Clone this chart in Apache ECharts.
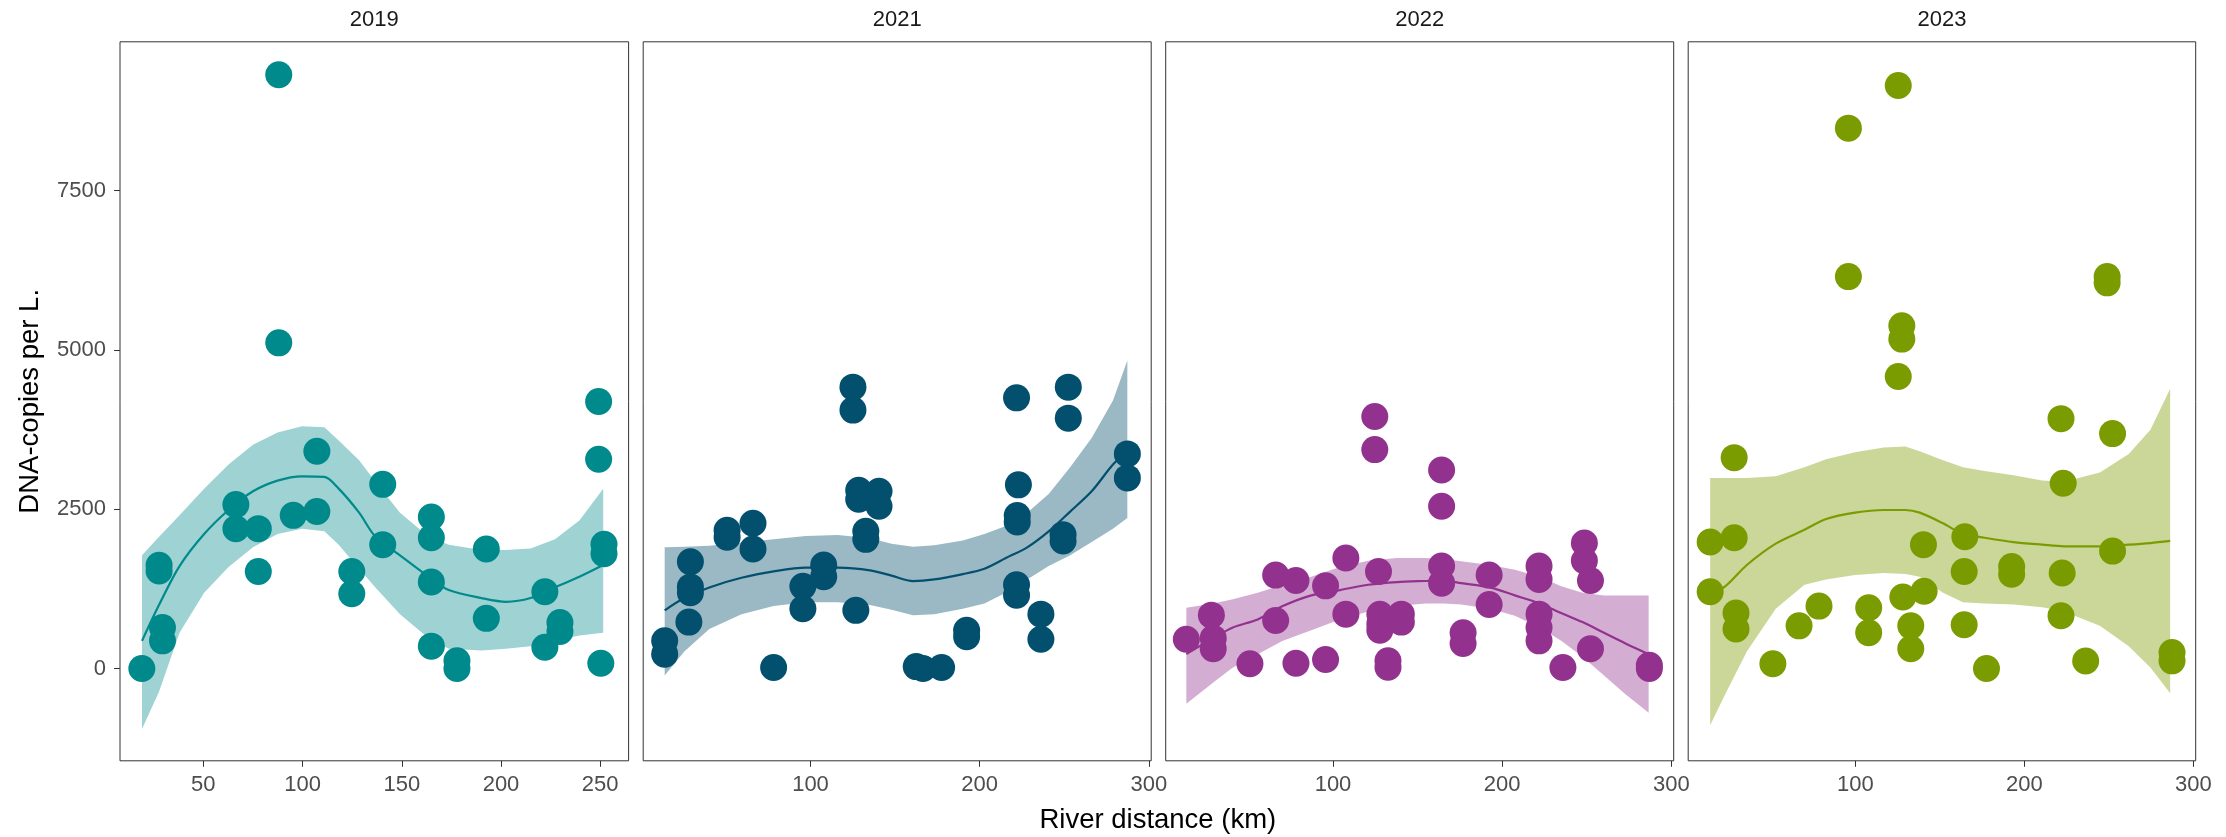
<!DOCTYPE html>
<html>
<head>
<meta charset="utf-8">
<script src="https://cdn.jsdelivr.net/npm/echarts@6/dist/echarts.min.js"></script>
<style>html,body{margin:0;padding:0;background:#fff;}#c{width:2226px;height:837px;}</style>
</head>
<body>
<div id="c"></div>
<script>
// ---------- data ----------
const years = ['2019', '2021', '2022', '2023'];
const xTitle = 'River distance (km)';
const yTitle = 'DNA-copies per L.';
const xTicks2019 = [50, 100, 150, 200, 250];
const xTicksOther = [100, 200, 300];
const yTicks = [0, 2500, 5000, 7500];

const x2019 = [19, 27.7, 27.7, 29.4, 29.4, 66.4, 66.4, 77.7, 77.7, 88, 88, 95.3, 107.2, 107.2, 124.8, 124.8, 140.4, 140.4, 164.9, 164.9, 164.9, 164.9, 177.8, 177.8, 192.6, 192.6, 222.1, 222.1, 229.7, 229.7, 249.2, 249.2, 251.9, 251.9, 250.3];
const y2019 = [0, 1620, 1530, 644, 434, 2571, 2194, 2194, 1523, 9315, 5109, 2403, 3409, 2462, 1523, 1172, 2889, 1943, 2378, 2051, 1356, 351, 120, 0, 1876, 787, 1205, 334, 720, 580, 4188, 3283, 1950, 1800, 83];

const x2021 = [13.8, 13.8, 29.0, 29.0, 29.0, 28.1, 50.7, 50.7, 66.0, 66.0, 78.2, 95.5, 95.5, 107.8, 107.8, 125.1, 125.1, 126.8, 128.5, 128.5, 132.7, 132.7, 140.5, 140.5, 162.5, 166.5, 177.5, 192.3, 192.3, 221.8, 222.9, 222.2, 222.2, 221.8, 221.8, 236.2, 236.2, 252.4, 252.4, 249.3, 249.3, 287.3, 287.3];
const y2021 = [434, 225, 1674, 1280, 1190, 728, 2170, 2060, 2278, 1875, 16, 1289, 937, 1624, 1440, 4414, 4054, 912, 2797, 2655, 2152, 2026, 2780, 2546, 30, 0, 16, 600, 500, 4246, 2881, 2400, 2300, 1314, 1150, 853, 460, 4414, 3928, 2100, 2000, 3367, 2990];

const x2022 = [13.3, 28.1, 29.2, 29.2, 50.9, 66.1, 66.1, 78.1, 78.1, 95.6, 95.6, 107.6, 107.6, 124.7, 124.7, 126.9, 127.7, 127.7, 127.7, 132.5, 132.5, 140.4, 140.4, 164.2, 164.2, 164.2, 164.2, 176.9, 176.9, 192.3, 192.3, 221.8, 221.8, 221.8, 221.8, 221.8, 235.9, 248.6, 248.6, 252.2, 252.2, 287.0, 287.0];
const y2022 = [460, 837, 476, 309, 74, 1465, 753, 1381, 83, 1297, 141, 1733, 853, 3953, 3434, 1523, 850, 700, 600, 120, 20, 728, 853, 3115, 2546, 1607, 1339, 560, 393, 1465, 1004, 1607, 1398, 853, 644, 434, 16, 1968, 1691, 1381, 309, 50, 0];

const x2023 = [14.1, 14.1, 28.3, 28.3, 29.4, 29.4, 51.2, 66.7, 78.5, 95.9, 95.9, 107.9, 107.9, 125.4, 127.5, 127.5, 125.4, 128.1, 132.8, 132.8, 140.3, 140.7, 164.8, 164.4, 164.4, 177.6, 192.5, 192.5, 221.7, 223.0, 222.4, 221.7, 236.3, 249.0, 249.0, 252.2, 252.2, 287.4, 287.4];
const y2023 = [1984, 1205, 3308, 2051, 870, 619, 74, 669, 979, 8477, 6148, 954, 560, 9147, 5377, 5168, 4582, 1121, 669, 309, 1943, 1213, 2068, 1523, 686, 0, 1600, 1480, 3920, 2906, 1498, 828, 117, 6150, 6050, 3685, 1842, 250, 120];

// smoother (loess) fit and confidence band
const fitX2019 = [19.1, 27.7, 38.0, 50.4, 62.7, 75.0, 87.4, 99.7, 111.0, 118.2, 128.5, 136.7, 149.1, 163.5, 173.7, 190.2, 202.5, 214.9, 227.2, 239.5, 251.5];
const fit2019 = [434, 1000, 1607, 2110, 2487, 2780, 2948, 3015, 3006, 2822, 2445, 2068, 1775, 1440, 1230, 1105, 1046, 1105, 1272, 1440, 1624];
const lo2019 = [-948, -362, 560, 1188, 1591, 1901, 2110, 2194, 2152, 1943, 1565, 1272, 853, 476, 309, 283, 309, 350, 434, 518, 560];
const hi2019 = [1775, 2068, 2403, 2822, 3199, 3509, 3702, 3802, 3786, 3576, 3266, 2931, 2445, 2068, 1943, 1859, 1859, 1884, 2026, 2320, 2822];

const fitX2021 = [13.8, 25.4, 40.2, 59.2, 78.2, 97.2, 116.2, 135.2, 147.9, 160.6, 173.2, 190.1, 202.8, 215.5, 228.1, 240.8, 253.5, 266.2, 278.8, 287.3];
const fit2021 = [912, 1105, 1272, 1423, 1523, 1582, 1582, 1540, 1457, 1372, 1398, 1481, 1565, 1733, 1901, 2152, 2462, 2780, 3199, 3409];
const lo2021 = [-110, 267, 619, 853, 979, 1038, 1038, 996, 920, 837, 853, 937, 1021, 1188, 1398, 1607, 1775, 1984, 2194, 2361];
const hi2021 = [1901, 1909, 1926, 1976, 2026, 2077, 2093, 2043, 1959, 1909, 1934, 2009, 2110, 2236, 2445, 2738, 3157, 3618, 4205, 4833];

const fitX2022 = [13.3, 29.2, 40.8, 55.5, 70.3, 87.2, 104.1, 120.9, 137.8, 154.7, 165.3, 175.8, 192.7, 207.5, 222.2, 234.9, 247.5, 260.2, 272.9, 286.6];
const fit2022 = [225, 476, 644, 770, 979, 1147, 1230, 1314, 1356, 1373, 1381, 1339, 1272, 1147, 1021, 870, 728, 560, 393, 225];
const lo2022 = [-554, -219, 16, 225, 434, 602, 770, 896, 979, 1021, 1021, 1004, 937, 828, 644, 434, 183, -110, -403, -696];
const hi2022 = [954, 1021, 1088, 1188, 1314, 1440, 1591, 1691, 1733, 1733, 1716, 1683, 1624, 1549, 1440, 1289, 1188, 1147, 1147, 1147];

const fitX2023 = [14.1, 23.0, 35.8, 52.9, 69.9, 82.7, 99.8, 116.8, 129.6, 138.1, 151.9, 163.7, 176.5, 193.6, 210.6, 223.4, 244.7, 261.8, 274.6, 286.3];
const fit2023 = [1172, 1289, 1624, 1959, 2177, 2345, 2445, 2487, 2487, 2445, 2278, 2110, 2051, 1984, 1943, 1917, 1917, 1943, 1968, 2001];
const lo2023 = [-889, -403, 267, 937, 1314, 1398, 1465, 1498, 1481, 1440, 1188, 1038, 1021, 1004, 962, 895, 669, 350, 16, -387];
const hi2023 = [2990, 2990, 2990, 3015, 3157, 3283, 3392, 3467, 3484, 3409, 3266, 3157, 3099, 3032, 2948, 2931, 3074, 3367, 3744, 4389];

// ---------- styling / layout ----------
const panels = [
  {x: x2019, y: y2019, fx: fitX2019, fit: fit2019, lo: lo2019, hi: hi2019, ticks: xTicks2019},
  {x: x2021, y: y2021, fx: fitX2021, fit: fit2021, lo: lo2021, hi: hi2021, ticks: xTicksOther},
  {x: x2022, y: y2022, fx: fitX2022, fit: fit2022, lo: lo2022, hi: hi2022, ticks: xTicksOther},
  {x: x2023, y: y2023, fx: fitX2023, fit: fit2023, lo: lo2023, hi: hi2023, ticks: xTicksOther}
];
const colors = ['#018A8C', '#024F6E', '#93328E', '#7B9C00'];
const bandColors = ['rgba(1,138,140,0.38)', 'rgba(2,79,110,0.4)', 'rgba(147,50,142,0.4)', 'rgba(123,156,0,0.4)'];
const gridPos = [
  {left: 120, width: 508.6},
  {left: 643.2, width: 508},
  {left: 1165.7, width: 508},
  {left: 1688.2, width: 507.5}
];
const xRanges = [[8.0, 264.3], [1.1, 301.4], [1.1, 301.4], [1.1, 301.4]];
const yMin = -1448, yMax = 9832;
const gridTop = 41.8, gridHeight = 719;
const FONT = '"Liberation Sans", Arial, sans-serif';
const plain = v => String(v);

const grid = [], xAxis = [], yAxis = [], series = [], title = [];
panels.forEach((p, i) => {
  grid.push({left: gridPos[i].left, width: gridPos[i].width, top: gridTop, height: gridHeight,
    show: true, borderColor: '#333333', borderWidth: 1, backgroundColor: 'transparent', containLabel: false});
  xAxis.push({type: 'value', gridIndex: i, min: xRanges[i][0], max: xRanges[i][1], position: 'bottom',
    axisLine: {show: false, onZero: false}, splitLine: {show: false},
    axisTick: {show: true, length: 6, customValues: p.ticks, lineStyle: {color: '#333333', width: 1}},
    axisLabel: {show: true, customValues: p.ticks, formatter: plain, fontSize: 22, color: '#4D4D4D', fontFamily: FONT, margin: 13}
  });
  const ya = {type: 'value', gridIndex: i, min: yMin, max: yMax, position: 'left',
    axisLine: {show: false, onZero: false}, splitLine: {show: false},
    axisTick: {show: i === 0, length: 6, customValues: yTicks, lineStyle: {color: '#333333', width: 1}},
    axisLabel: {show: i === 0, customValues: yTicks, formatter: plain, fontSize: 22, color: '#4D4D4D', fontFamily: FONT, margin: 14}
  };
  if (i === 0) {
    Object.assign(ya, {name: yTitle, nameLocation: 'middle', nameRotate: 90, nameGap: 76,
      nameTextStyle: {fontSize: 27.5, color: '#000', fontFamily: FONT}});
  }
  yAxis.push(ya);
  title.push({text: years[i], left: gridPos[i].left + gridPos[i].width / 2, top: 9, textAlign: 'center', padding: 0,
    textStyle: {fontSize: 22, fontWeight: 'normal', color: '#1A1A1A', fontFamily: FONT}});

  series.push({type: 'scatter', xAxisIndex: i, yAxisIndex: i, symbolSize: 27,
    itemStyle: {color: colors[i], opacity: 1}, z: 2, silent: true,
    data: p.x.map((v, j) => [v, p.y[j]])});
  series.push({type: 'custom', xAxisIndex: i, yAxisIndex: i, z: 3, silent: true,
    data: p.fx.map((v, j) => [v, p.lo[j], p.hi[j]]),
    encode: {x: 0, y: [1, 2]},
    renderItem: (params, api) => {
      if (params.dataIndex !== 0) return null;
      const pts = [];
      for (let j = 0; j < p.fx.length; j++) pts.push(api.coord([p.fx[j], p.hi[j]]));
      for (let j = p.fx.length - 1; j >= 0; j--) pts.push(api.coord([p.fx[j], p.lo[j]]));
      return {type: 'polygon', shape: {points: pts}, style: {fill: bandColors[i], stroke: null}};
    }});
  series.push({type: 'line', xAxisIndex: i, yAxisIndex: i, z: 4, silent: true, smooth: 0.3,
    showSymbol: false, symbol: 'none',
    lineStyle: {color: colors[i], width: 2.2},
    data: p.fx.map((v, j) => [v, p.fit[j]])});
});
title.push({text: xTitle, left: (120 + 2195.7) / 2, top: 806, textAlign: 'center', padding: 0,
  textStyle: {fontSize: 27.5, fontWeight: 'normal', color: '#000', fontFamily: FONT}});

const chart = echarts.init(document.getElementById('c'), null, {renderer: 'canvas'});
chart.setOption({animation: false, backgroundColor: '#ffffff', title, grid, xAxis, yAxis, series});
</script>
</body>
</html>
